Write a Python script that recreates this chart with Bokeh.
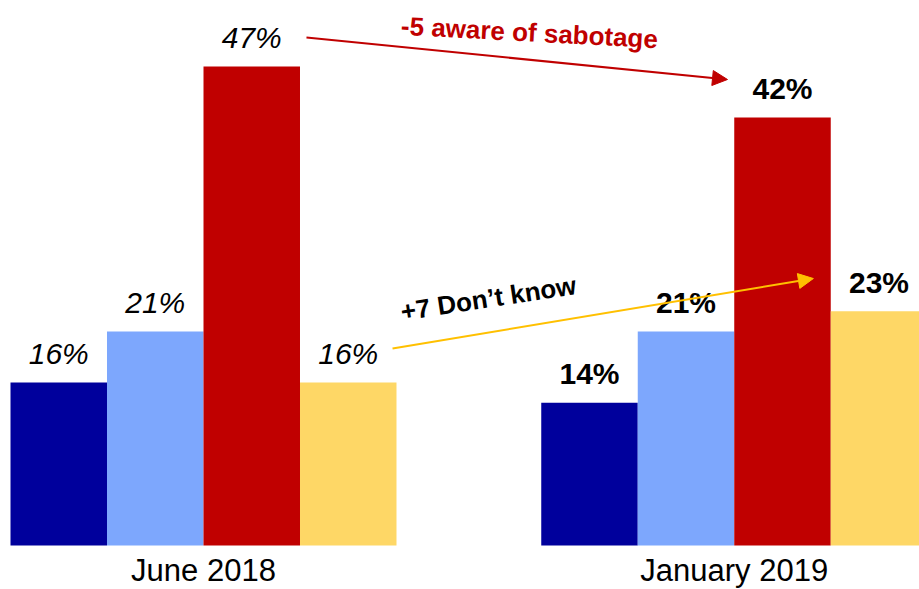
import math
from bokeh.plotting import figure
from bokeh.models import Range1d, ColumnDataSource, Arrow, NormalHead
from bokeh.core.properties import value
from bokeh.embed import file_html
from bokeh.resources import INLINE

# ---- data ----
groups = ["June 2018", "January 2019"]
series_names = ["Series 1", "Series 2", "Aware of sabotage", "Don't know"]
june_2018 = [16, 21, 47, 16]
january_2019 = [14, 21, 42, 23]
series_colors = ["#00009C", "#7DA7FD", "#C00000", "#FED766"]

annotation_red = "-5 aware of sabotage"
annotation_yellow = "+7 Don\u2019t know"

# ---- layout ----
W, H = 919, 589
group_starts = [0.0, 5.5]
label_styles = ["italic", "bold"]

p = figure(width=W, height=H, output_backend="svg", toolbar_location=None,
           x_axis_location=None, y_axis_location=None, min_border=0,
           x_range=Range1d(-0.1036, 9.4197), y_range=Range1d(-4.318, 53.484))
p.outline_line_color = None
p.xgrid.visible = False
p.ygrid.visible = False
p.background_fill_color = "white"
p.border_fill_color = "white"

FONT = value("Liberation Sans")

for gi, vals in enumerate([june_2018, january_2019]):
    xs = [group_starts[gi] + i + 0.5 for i in range(len(vals))]
    src = ColumnDataSource(dict(x=xs, top=vals, color=series_colors,
                                label=[f"{v}%" for v in vals]))
    p.vbar(x="x", top="top", bottom=0, width=1.0, fill_color="color",
           line_color=None, source=src)
    p.text(x="x", y="top", text="label", source=src, text_font=FONT,
           text_font_size=value("30px"), text_font_style=label_styles[gi],
           text_align="center", text_baseline="alphabetic", y_offset=-29,
           text_color="black")

# group labels
gsrc = ColumnDataSource(dict(x=[group_starts[0] + 2, group_starts[1] + 2], y=[0, 0], t=groups))
p.text(x="x", y="y", text="t", source=gsrc, text_font=FONT,
       text_font_size=value("31px"), text_align="center",
       text_baseline="alphabetic", y_offset=25, text_color="black")

# annotation arrows
p.add_layout(Arrow(end=NormalHead(size=15, fill_color="#C00000", line_color="#C00000"),
                   x_start=3.067, y_start=49.85, x_end=7.43, y_end=45.73,
                   line_color="#C00000", line_width=2))
p.add_layout(Arrow(end=NormalHead(size=15, fill_color="#FFC000", line_color="#FFC000"),
                   x_start=3.959, y_start=19.33, x_end=8.32, y_end=26.2,
                   line_color="#FFC000", line_width=2))

p.text(x=[5.378], y=[50.35], text=[annotation_red], text_font=FONT,
       text_font_size=value("26px"), text_font_style="bold",
       text_color="#C00000", text_align="center", text_baseline="alphabetic",
       angle=-3 * math.pi / 180)
p.text(x=[4.953], y=[24.25], text=[annotation_yellow], text_font=FONT,
       text_font_size=value("26px"), text_font_style="bold",
       text_color="black", text_align="center", text_baseline="alphabetic",
       angle=8.7 * math.pi / 180)

open("out.html", "w").write(file_html(p, INLINE))
